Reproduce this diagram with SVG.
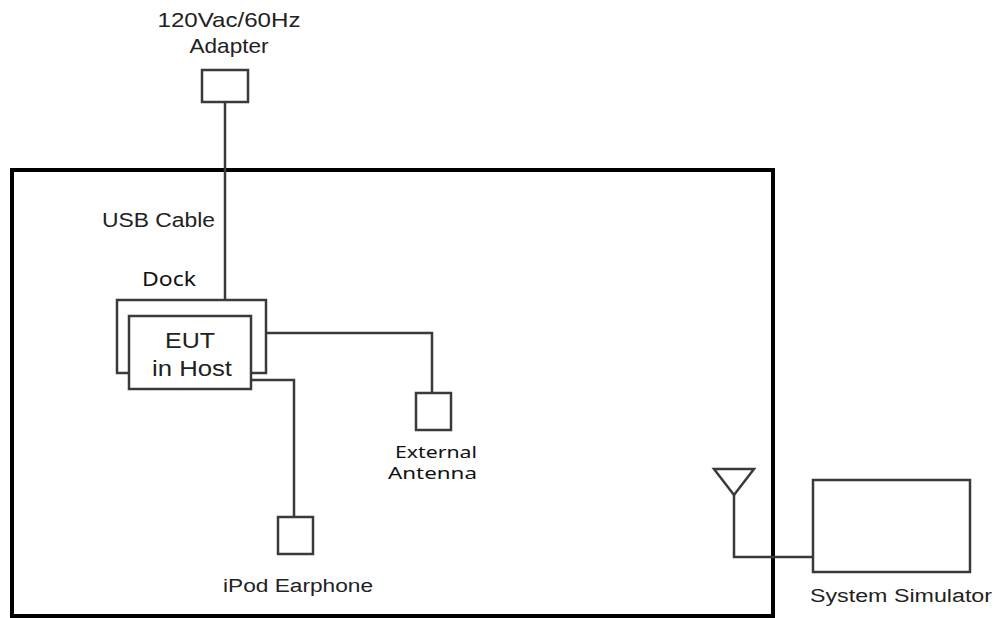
<svg xmlns="http://www.w3.org/2000/svg" width="997" height="618" viewBox="0 0 997 618">
<style>
.box{fill:#fff;stroke:#3a3a3a;stroke-width:2.5}
.wire{fill:none;stroke:#3a3a3a;stroke-width:2.5}
.t{font-family:"Liberation Sans",Arial,sans-serif;fill:#222}
.s{font-family:"Noto Sans","Open Sans",sans-serif;fill:#111}
</style>
<rect width="997" height="618" fill="#fff"/>
<g id="enclosure"><rect x="12" y="170" width="761" height="446" fill="none" stroke="#000" stroke-width="4"/></g>
<g id="connectors">
<path class="wire" d="M225,102 V300"/>
<path class="wire" d="M266,333 H432 V393"/>
<path class="wire" d="M251,380 H294 V517"/>
<path class="wire" d="M734,495 V557 H813"/>
</g>
<g id="adapter">
<text class="t" x="229" y="27" font-size="21" text-anchor="middle" textLength="143" lengthAdjust="spacingAndGlyphs">120Vac/60Hz</text>
<text class="t" x="229" y="53" font-size="21" text-anchor="middle" textLength="79" lengthAdjust="spacingAndGlyphs">Adapter</text>
<rect class="box" x="202" y="70" width="46" height="32"/>
</g>
<g id="usb-label"><text class="t" x="102" y="227" font-size="20" textLength="113" lengthAdjust="spacingAndGlyphs">USB Cable</text></g>
<g id="dock">
<text class="s" x="142" y="286" font-size="19" textLength="54" lengthAdjust="spacingAndGlyphs">Dock</text>
<rect class="box" x="117" y="300" width="149" height="73"/>
</g>
<g id="eut">
<rect class="box" x="129" y="316" width="122" height="73"/>
<text class="t" x="190" y="348" font-size="22" text-anchor="middle" textLength="50" lengthAdjust="spacingAndGlyphs">EUT</text>
<text class="t" x="192" y="376" font-size="22" text-anchor="middle" textLength="80" lengthAdjust="spacingAndGlyphs">in Host</text>
</g>
<g id="external-antenna">
<rect class="box" x="416" y="393" width="35" height="37"/>
<text class="s" x="395" y="458" font-size="17" textLength="82" lengthAdjust="spacingAndGlyphs">External</text>
<text class="s" x="388" y="479" font-size="17" textLength="89" lengthAdjust="spacingAndGlyphs">Antenna</text>
</g>
<g id="earphone">
<rect class="box" x="278" y="517" width="35" height="37"/>
<text class="t" x="223" y="592" font-size="18" textLength="150" lengthAdjust="spacingAndGlyphs">iPod Earphone</text>
</g>
<g id="antenna"><path class="wire" d="M714,469 H754 L734,495 Z" fill="#fff"/></g>
<g id="system-simulator">
<rect class="box" x="813" y="480" width="157" height="92"/>
<text class="t" x="810" y="602" font-size="18" textLength="182" lengthAdjust="spacingAndGlyphs">System Simulator</text>
</g>
</svg>
